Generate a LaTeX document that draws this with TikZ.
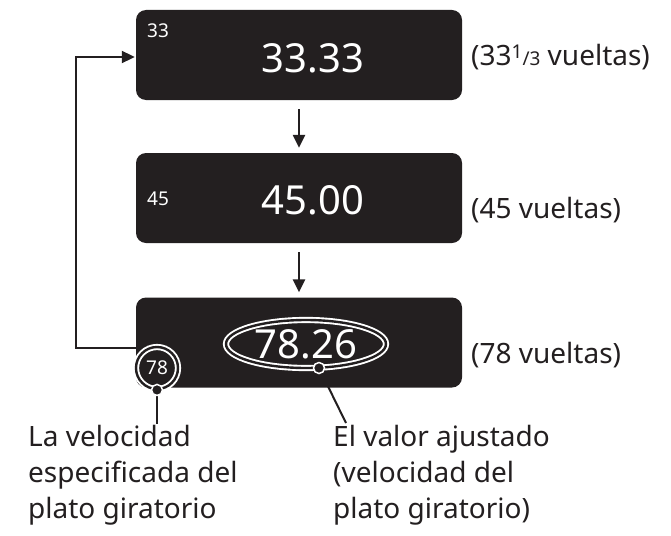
\documentclass[tikz,border=0pt]{standalone}
\usepackage{fontspec}
\setmainfont{Noto Sans}
\usetikzlibrary{shapes.geometric,arrows.meta}
\definecolor{panel}{HTML}{231F20}
\begin{document}
\begin{tikzpicture}[x=1pt,y=-1pt,
  panelbox/.style={fill=panel, rounded corners=10pt, minimum width=326pt, minimum height=90pt, inner sep=0pt},
  bigval/.style={text=white, font=\fontsize{40}{40}\selectfont, inner sep=0pt},
  smallval/.style={text=white, font=\fontsize{19}{19}\selectfont, inner sep=0pt},
  sidelabel/.style={anchor=west, font=\fontsize{28}{28}\selectfont, inner sep=0pt, text=panel},
  notelabel/.style={anchor=north west, align=left, font=\fontsize{28}{36}\selectfont, inner sep=0pt, text=panel},
  flow/.style={draw=panel, line width=2.4pt, -{Triangle[length=13pt,width=12pt]}},
  ring/.style={draw=white, double=panel, line width=1.9pt, double distance=2.4pt},
  pin/.style={circle, fill=panel, draw=white, line width=1.5pt, minimum size=11pt, inner sep=0pt},
  leader/.style={draw=panel, line width=2pt}
]
\useasboundingbox (0,0) rectangle (671,535);
\node[panelbox] (b1) at (299,55) {};
\node[panelbox] (b2) at (299,198) {};
\node[panelbox] (b3) at (299,342.5) {};

\node[bigval] (v1) at (313,58) {33.33};
\node[smallval] (s1) at (158,31) {33};
\node[bigval] (v2) at (313,200) {45.00};
\node[smallval] (s2) at (158,199) {45};

\node[ellipse, ring, fill=panel, minimum width=160pt, minimum height=48pt, inner sep=0pt, text=white, font=\fontsize{40}{40}\selectfont] (v3) at (306,344) {78.26};
\node[circle, ring, fill=panel, minimum size=42pt, inner sep=0pt, text=white, font=\fontsize{19}{19}\selectfont] (s3) at (157,368) {78};

\coordinate (p1) at (s3.south);
\coordinate (p2) at (319,368);
\coordinate (e1) at (157,424);
\coordinate (e2) at (346,423);
\draw[leader] (p1) -- (e1);
\draw[leader] (p2) -- (e2);
\node[pin] (d1) at (p1) {};
\node[pin] (d2) at (p2) {};

\draw[flow, shorten <=9pt, shorten >=5pt] (b1.south) -- (b2.north);
\draw[flow, shorten <=9pt, shorten >=5pt] (b2.south) -- (b3.north);

\coordinate (la) at (76,348);
\coordinate (lb) at (76,57);
\draw[flow, line width=2pt, shorten >=1pt] (b3.west |- la) -- (la) -- (lb) -- (b1.west |- lb);

\node[sidelabel] (r1) at (471,57) {(33{\fontsize{19}{19}\selectfont\raisebox{7pt}{1}/3} vueltas)};
\node[sidelabel] (r2) at (471,210) {(45 vueltas)};
\node[sidelabel] (r3) at (471,355) {(78 vueltas)};

\node[notelabel] (n1) at (28,425) {La velocidad\\especificada del\\plato giratorio};
\node[notelabel] (n2) at (333,425) {El valor ajustado\\(velocidad del\\plato giratorio)};
\end{tikzpicture}
\end{document}
